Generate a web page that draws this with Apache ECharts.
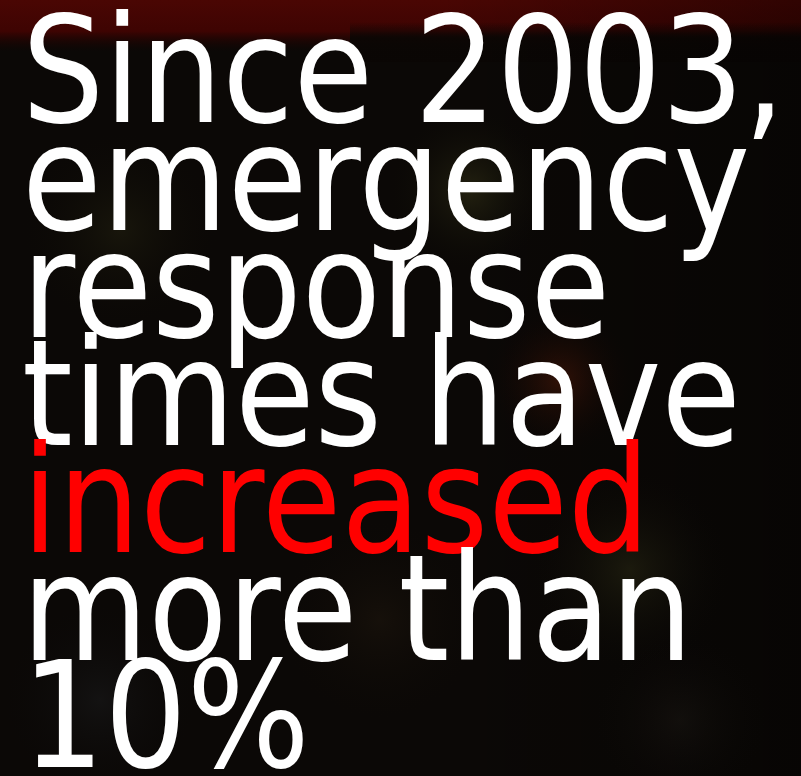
<!DOCTYPE html>
<html>
<head>
<meta charset="utf-8">
<script src="https://cdn.jsdelivr.net/npm/echarts@6/dist/echarts.min.js"></script>
<style>
html,body{margin:0;padding:0;background:#0b0806;}
#main{width:801px;height:776px;}
</style>
</head>
<body>
<div id="main"></div>
<script>
// Text content (top to bottom)
var textLines = ['Since 2003,', 'emergency', 'response', 'times have', 'increased', 'more than', '10%'];
var highlightedLines = ['increased'];

var chart = echarts.init(document.getElementById('main'), null, {renderer: 'canvas'});

var FONT_SIZE = 148;
var LINE_STEP = 107.5;
var FIRST_BASELINE = 123;
var LEFT = 22;
var SCALE_X = 0.875;
var MID_OFFSET = 0.297 * FONT_SIZE - 5;

var graphics = [];
// background
graphics.push({type:'rect', shape:{x:0,y:0,width:801,height:776}, style:{fill:'#0b0806'}, silent:true});
graphics.push({type:'rect', shape:{x:0,y:0,width:801,height:52}, style:{fill:{type:'linear',x:0,y:0,x2:0,y2:1,colorStops:[{offset:0,color:'#4a0603'},{offset:0.6,color:'#3e0402'},{offset:1,color:'rgba(20,4,2,0)'}]}}, silent:true});
graphics.push({type:'rect', shape:{x:350,y:22,width:451,height:40}, style:{fill:{type:'linear',x:0,y:0,x2:0,y2:1,colorStops:[{offset:0,color:'rgba(10,6,4,0)'},{offset:0.4,color:'rgba(10,6,4,0.9)'},{offset:1,color:'rgba(10,6,4,0.9)'}]}}, silent:true});
graphics.push({type:'rect', shape:{x:0,y:0,width:801,height:776}, style:{fill:{type:'linear',x:0,y:0,x2:1,y2:0,colorStops:[{offset:0,color:'rgba(0,0,0,0)'},{offset:0.55,color:'rgba(0,0,0,0)'},{offset:1,color:'rgba(0,0,0,0.35)'}]}}, silent:true});
function blob(cx, cy, r, color) {
  graphics.push({type:'circle', shape:{cx:cx, cy:cy, r:r}, style:{fill:{type:'radial',x:0.5,y:0.5,r:0.5,colorStops:[{offset:0,color:color},{offset:1,color:'rgba(0,0,0,0)'}]}}, silent:true});
}
blob(470, 190, 90, 'rgba(80,80,35,0.35)');
blob(120, 230, 110, 'rgba(70,70,30,0.22)');
blob(560, 380, 80, 'rgba(120,35,10,0.35)');
blob(630, 570, 110, 'rgba(75,75,35,0.28)');
blob(380, 620, 120, 'rgba(60,45,25,0.22)');
blob(100, 700, 110, 'rgba(45,50,55,0.25)');
blob(680, 720, 100, 'rgba(55,50,40,0.2)');

textLines.forEach(function (line, i) {
  var baseline = FIRST_BASELINE + i * LINE_STEP;
  graphics.push({
    type: 'text',
    x: LEFT,
    y: baseline - MID_OFFSET,
    scaleX: SCALE_X,
    silent: true,
    z: 10,
    style: {
      text: line,
      x: 0,
      y: 0,
      fill: highlightedLines.indexOf(line) >= 0 ? '#ff0000' : '#ffffff',
      font: 'normal ' + FONT_SIZE + 'px "DejaVu Sans", Verdana, sans-serif',
      align: 'left',
      verticalAlign: 'middle'
    }
  });
});

chart.setOption({
  backgroundColor: '#0b0806',
  animation: false,
  graphic: {elements: graphics}
});
</script>
</body>
</html>
